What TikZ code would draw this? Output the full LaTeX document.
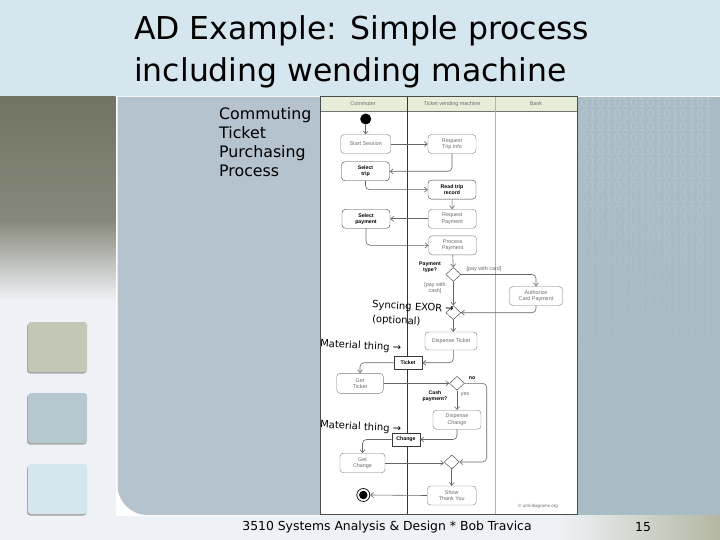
\documentclass[tikz,border=0pt]{standalone}
\usepackage{fontspec}
\setmainfont{DejaVu Sans}
\newfontfamily\slidefont{DejaVu Sans}
\newfontfamily\dfont{Liberation Sans}
\usetikzlibrary{shapes.geometric,arrows.meta}
\definecolor{titleband}{HTML}{D5E6EE}
\definecolor{panelc}{HTML}{B4C3CE}
\definecolor{binbg}{HTML}{A9BBC5}
\definecolor{olivec}{HTML}{717362}
\definecolor{leftlight}{HTML}{EEF2F6}
\definecolor{footolive}{HTML}{B3B7A2}
\definecolor{sqa}{HTML}{C3C8B6}
\definecolor{sqb}{HTML}{B7C7D0}
\definecolor{sqc}{HTML}{D4E6EE}
\definecolor{hdrfill}{HTML}{E6EEDA}
\definecolor{gtext}{HTML}{6A6A6A}
\definecolor{lborder}{HTML}{7A7A7A}
\definecolor{dborder}{HTML}{3A3A3A}
\definecolor{flowc}{HTML}{666666}
\tikzset{
  dsmall/.style={font=\dfont\fontsize{5.4}{6.2}\selectfont},
  dbold/.style={font=\dfont\bfseries\fontsize{5.2}{6}\selectfont},
  act/.style={draw=lborder, fill=white, rounded corners=3.5pt, minimum width=48pt,
    minimum height=19pt, inner sep=1pt, align=center, text=gtext, dsmall},
  actb/.style={act, draw=dborder, text=black, dbold},
  objnode/.style={draw=dborder, fill=white, minimum width=28.5pt, minimum height=12.6pt,
    inner sep=1pt, text=black, dbold},
  dec/.style={diamond, draw=dborder, fill=white, minimum width=15pt, minimum height=14pt, inner sep=0pt},
  flow/.style={draw=flowc, line width=0.6pt, rounded corners=4pt,
    -{Straight Barb[length=3pt,width=5pt]}},
  lbl/.style={inner sep=0pt, align=center, text=gtext, dsmall},
  lblb/.style={inner sep=0pt, align=center, text=black, dbold},
  hdr/.style={inner sep=0pt, text=gtext, font=\dfont\fontsize{5.4}{6}\selectfont},
  note/.style={inner sep=0pt, anchor=west, text=black, font=\slidefont\fontsize{10}{11}\selectfont, rotate=-3},
  square/.style={rounded corners=3pt},
  binrow/.style={inner sep=0pt, anchor=west, text=white, font=\slidefont\fontsize{13}{13}\selectfont}
}
\begin{document}
\begin{tikzpicture}[x=1pt,y=-1pt]
\useasboundingbox (0,0) rectangle (720,540);
% background
\fill[white] (0,0) rectangle (720,540);
\fill[titleband] (0,0) rectangle (720,96);
% left strip
\shade[top color=olivec, bottom color=olivec!85!white] (0,97) rectangle (115.5,220);
\shade[top color=olivec!85!white, bottom color=leftlight] (0,220) rectangle (115.5,300);
\fill[leftlight] (0,300) rectangle (115.5,515.5);
% squares
\foreach \yy/\cc in {322/sqa,393/sqb,464/sqc}{
  \fill[black!35, square] (27,\yy+1.5) rectangle (86.5,\yy+51.5);
  \fill[\cc, square] (28,\yy) rectangle (87,\yy+50);
}
% main panel
\fill[panelc] (720,97) -- (117.5,97) [rounded corners=30pt] -- (117.5,515) [sharp corners] -- (720,515) -- cycle;
% binary pattern panel
\fill[binbg] (578,97) rectangle (720,515);
\begin{scope}
\clip (578,97) rectangle (720,515);
\foreach \k in {0,...,34}{
  \pgfmathsetmacro{\op}{max(0.03,0.16-0.006*\k)}
  \node[binrow, opacity=\op] at (580,{103+12*\k}) {0101010101010101};
}
\end{scope}
% footer band
\fill[leftlight] (0,515.5) rectangle (560,540);
\shade[left color=leftlight, right color=footolive] (560,515.5) rectangle (720,540);
% title
\node[anchor=base west, inner sep=0pt, font=\slidefont\fontsize{31.5}{36}\selectfont] (t1) at (134,39.5) {AD Example: Simple process};
\node[anchor=base west, inner sep=0pt, font=\slidefont\fontsize{31.5}{36}\selectfont] (t2) at (134,81.7) {including wending machine};
% side caption
\node[anchor=north west, inner sep=0pt, align=left, font=\slidefont\fontsize{15.8}{19}\selectfont] (cap) at (219,107) {Commuting\\Ticket\\Purchasing\\Process};
% footer
\node[inner sep=0pt, font=\slidefont\fontsize{12.4}{14}\selectfont] (foot) at (387,527.5) {3510 Systems Analysis \& Design * Bob Travica};
\node[inner sep=0pt, font=\slidefont\fontsize{12.4}{14}\selectfont] (pg) at (643,527.5) {15};
% diagram frame
\fill[white] (320,96) rectangle (577,514);
\fill[hdrfill] (320,97) rectangle (577,111);
\draw[black!55, line width=0.5pt] (320,111) -- (577,111);
\draw[black!80, line width=1.1pt] (407.3,97) -- (407.3,514);
\draw[black!30, line width=0.6pt] (495.7,97) -- (495.7,514);
\draw[black!70, line width=0.8pt] (320,96) rectangle (577,514);
\node[hdr] (h1) at (363,104) {Commuter};
\node[hdr] (h2) at (452,104) {Ticket vending machine};
\node[hdr] (h3) at (536,104) {Bank};
% activity nodes
\node[circle, fill=black, minimum size=11pt, inner sep=0pt] (init) at (365.7,119) {};
\node[act, minimum width=50pt] (ss) at (365.7,144) {Start Session};
\node[act] (rti) at (452,144) {Request\\Trip Info};
\node[actb] (st) at (365.5,171.3) {Select\\trip};
\node[actb] (rtr) at (452,189.7) {Read trip\\record};
\node[act] (rp) at (452.2,218.8) {Request\\Payment};
\node[actb] (sp) at (366,218.8) {Select\\payment};
\node[act] (pp) at (452.7,245.3) {Process\\Payment};
\node[dec] (d1) at (453.3,274.5) {};
\node[dec] (d2) at (453.3,312.7) {};
\node[act, minimum width=53pt] (ac) at (536,296) {Authorize\\Card Payment};
\node[act, minimum width=52pt, minimum height=18pt] (dt) at (451,341) {Dispense Ticket};
\node[objnode] (tk) at (408,362.7) {Ticket};
\node[act, minimum width=46.6pt, minimum height=20pt] (gt) at (360,383.3) {Get\\Ticket};
\node[dec] (d3) at (457,383.3) {};
\node[act] (dc) at (457,419.7) {Dispense\\Change};
\node[objnode] (ch) at (406,439.5) {Change};
\node[act, minimum width=45pt, minimum height=19.5pt] (gc) at (362.5,463) {Get\\Change};
\node[dec] (d4) at (451.7,462) {};
\node[act, minimum width=49pt] (sty) at (451.7,495.5) {Show\\Thank You};
\node[circle, draw=black, line width=0.7pt, fill=white, minimum size=13pt, inner sep=0pt] (fin) at (363.3,495) {};
\node[circle, fill=black, minimum size=8.5pt, inner sep=0pt] (fincore) at (fin) {};
% labels
\node[lblb] (l1) at (430,267.3) {Payment\\type?};
\node[lbl] (l2) at (484,269.3) {[pay with card]};
\node[lbl] (l3) at (435,288.3) {[pay with\\cash]};
\node[lblb] (l4) at (472,378.3) {no};
\node[lblb] (l5) at (435,396) {Cash\\payment?};
\node[lbl] (l6) at (465,395) {yes};
\node[lbl, font=\dfont\fontsize{4.5}{5}\selectfont] (cr) at (538,506) {\textcopyright\ uml-diagrams.org};
% flows
\draw[flow] (init) -- (ss);
\draw[flow] (ss) -- (rti);
\draw[flow] (rti.south) |- (st.east);
\draw[flow] (st.south) |- (rtr.west);
\draw[flow] (rtr) -- (rp);
\draw[flow] (rp) -- (sp);
\draw[flow] (sp.south) |- (pp.west);
\draw[flow] (pp.south) -- (d1.north);
\draw[flow] (d1.east) -| (ac.north);
\draw[flow] (d1.south) -- (d2.north);
\draw[flow] (ac.south) |- (d2.east);
\draw[flow] (d2.south) -- (dt.north -| d2.south);
\draw[flow] (dt.south -| d2.south) |- (tk.east);
\draw[flow] (tk.west) -| (gt.north);
\draw[flow] (gt.east) -- (d3.west);
\draw[flow] (d3.south) -- (dc.north);
\draw[flow] (dc.south) |- (ch.east);
\draw[flow] (ch.west) -| (gc.north);
\draw[flow] (gc.east) -- (d4.west |- gc.east);
\draw[flow] (d3.east) -- ++(22,0) |- (d4.east);
\draw[flow] (d4.south) -- (sty.north);
\draw[flow] (sty.west) -- (fin.east);
% overlay notes
\node[note] (n1) at (372,305) {Syncing EXOR →};
\node[note] (n2) at (372,319.5) {(optional)};
\node[note] (n3) at (320,344) {Material thing →};
\node[note] (n4) at (320,425) {Material thing →};
\end{tikzpicture}
\end{document}
